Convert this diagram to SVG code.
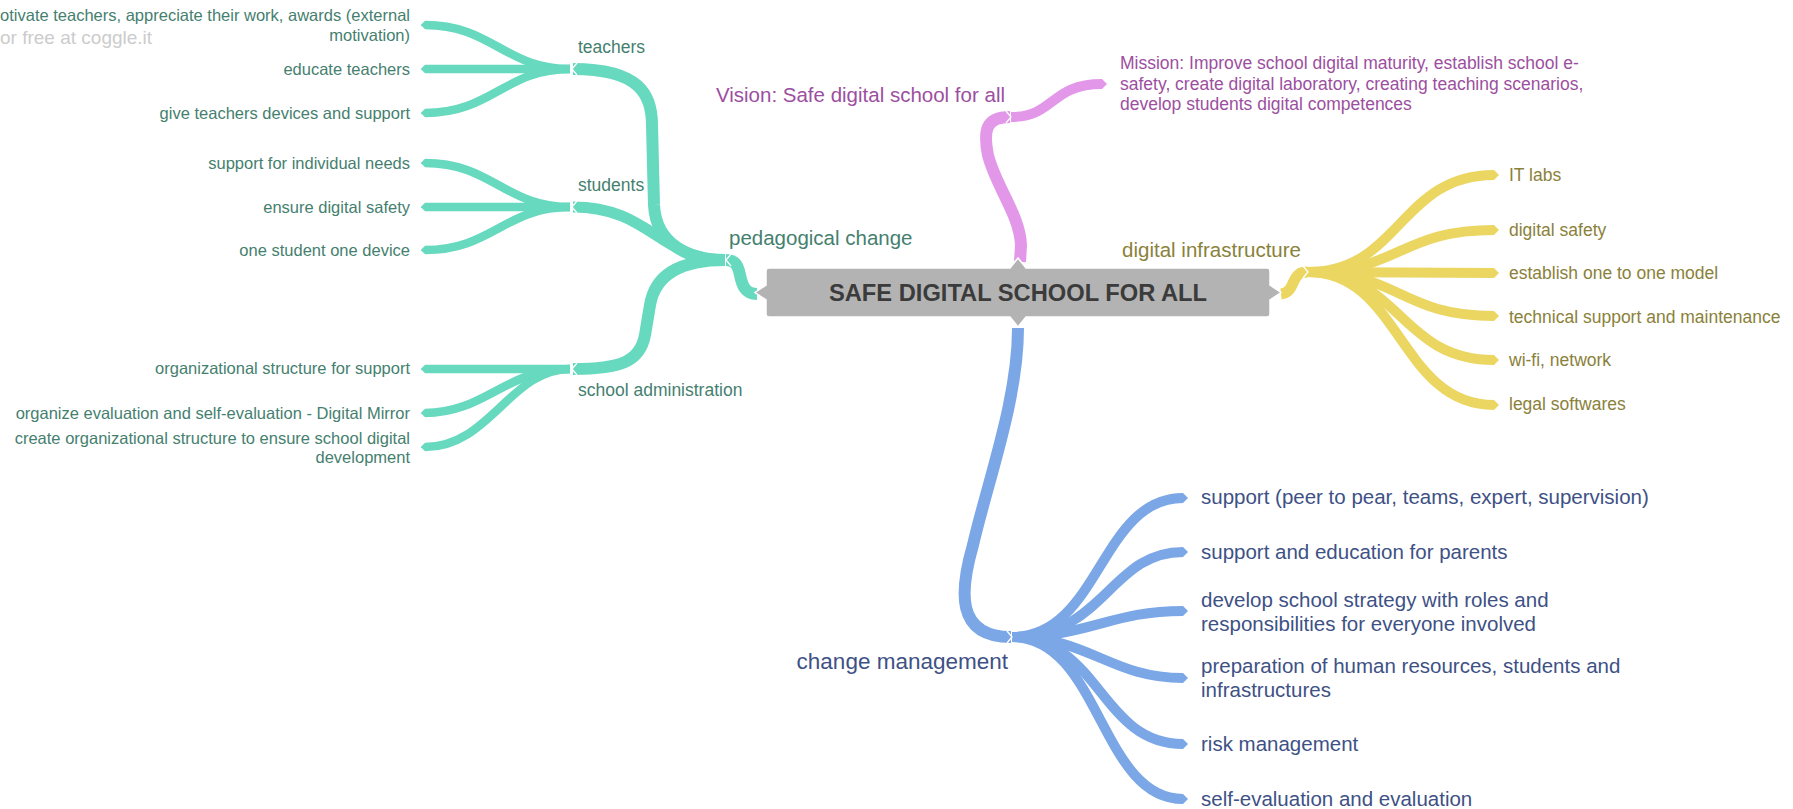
<svg xmlns="http://www.w3.org/2000/svg" width="1793" height="809" viewBox="0 0 1793 809">
<style>
text{font-family:"Liberation Sans",Arial,sans-serif}
.br{fill:none;stroke-linecap:butt;stroke-linejoin:round}
.tl{stroke:#66d9bf}.pk{stroke:#e297e9}.yl{stroke:#ebd661}.bl{stroke:#7ba7e6}
.notch{fill:none;stroke:#fff;stroke-width:1.3}
.tt{fill:#45806f}.pt{fill:#9c4fa0}.yt{fill:#8a813a}.bt{fill:#3e5185}
.s3{font-size:16.5px}.s2{font-size:17.5px}.s1{font-size:20.5px}
.r{text-anchor:end}
</style>
<defs>
<marker id="tipT" viewBox="0 -5 5 10" refX="0" refY="0" markerWidth="0.5" markerHeight="1" orient="auto" markerUnits="strokeWidth"><path d="M0,-5 L5,0 L0,5 Z" fill="#66d9bf"/></marker>
<marker id="tipP" viewBox="0 -5 5 10" refX="0" refY="0" markerWidth="0.5" markerHeight="1" orient="auto" markerUnits="strokeWidth"><path d="M0,-5 L5,0 L0,5 Z" fill="#e297e9"/></marker>
<marker id="tipY" viewBox="0 -5 5 10" refX="0" refY="0" markerWidth="0.5" markerHeight="1" orient="auto" markerUnits="strokeWidth"><path d="M0,-5 L5,0 L0,5 Z" fill="#ebd661"/></marker>
<marker id="tipB" viewBox="0 -5 5 10" refX="0" refY="0" markerWidth="0.5" markerHeight="1" orient="auto" markerUnits="strokeWidth"><path d="M0,-5 L5,0 L0,5 Z" fill="#7ba7e6"/></marker>
</defs>
<rect width="1793" height="809" fill="#ffffff"/>
<text x="0" y="44" font-size="19" fill="#cccccc">or free at coggle.it</text>

<g id="connectors">
  <!-- teal -->
  <g class="br tl">
    <path d="M570,69 C505,69 492,25 425,25" stroke-width="8.5" marker-end="url(#tipT)"/>
    <path d="M570,69 L425,69" stroke-width="8.5" marker-end="url(#tipT)"/>
    <path d="M570,69 C505,69 492,113 425,113" stroke-width="8.5" marker-end="url(#tipT)"/>
    <path d="M570,207 C505,207 492,163 425,163" stroke-width="8.5" marker-end="url(#tipT)"/>
    <path d="M570,207 L425,207" stroke-width="8.5" marker-end="url(#tipT)"/>
    <path d="M570,207 C505,207 492,250 425,250" stroke-width="8.5" marker-end="url(#tipT)"/>
    <path d="M570,369 L425,369" stroke-width="8.5" marker-end="url(#tipT)"/>
    <path d="M570,369 C505,369 485,413 425,413" stroke-width="8.5" marker-end="url(#tipT)"/>
    <path d="M570,369 C510,369 490,447 425,447" stroke-width="8.5" marker-end="url(#tipT)"/>
    <path d="M725,260 C690,260 656,245 654,205 L652,125 C652,95 640,69 573,69" stroke-width="12"/>
    <path d="M725,260 C660,260 650,207 573,207" stroke-width="11"/>
    <path d="M725,260 C680,260 655,275 650,305 L645,335 C640,362 620,369 573,369" stroke-width="12"/>
    <path d="M757,294 C745,294 742,285 740,275 C738,265 735,260 726,260" stroke-width="12"/>
  </g>
  <!-- pink -->
  <g class="br pk">
    <path d="M1020,262 L1021,245 C1020,215 995,185 988,155 C983,130 986,117 1010,117" stroke-width="12"/>
    <path d="M1011,117 C1055,117 1050,84 1102,84" stroke-width="10" marker-end="url(#tipP)"/>
  </g>
  <!-- yellow -->
  <g class="br yl">
    <path d="M1281,294 C1291,293 1292,284 1295,279 C1298,274 1300,272 1308,272" stroke-width="11"/>
    <path d="M1308,272 C1400,272 1400,175 1494,175" stroke-width="10" marker-end="url(#tipY)"/>
    <path d="M1308,272 C1400,272 1400,230 1494,230" stroke-width="10" marker-end="url(#tipY)"/>
    <path d="M1308,272 C1400,272 1400,273 1494,273" stroke-width="10" marker-end="url(#tipY)"/>
    <path d="M1308,272 C1400,272 1400,316 1494,316" stroke-width="10" marker-end="url(#tipY)"/>
    <path d="M1308,272 C1400,272 1400,360 1494,360" stroke-width="10" marker-end="url(#tipY)"/>
    <path d="M1308,272 C1400,272 1400,405 1494,405" stroke-width="10" marker-end="url(#tipY)"/>
  </g>
  <!-- blue -->
  <g class="br bl">
    <path d="M1018,328 C1018,400 988,480 973,545 C960,590 955,637 1011,637" stroke-width="12"/>
    <path d="M1012,637 C1100,637 1100,498 1183,498" stroke-width="10" marker-end="url(#tipB)"/>
    <path d="M1012,637 C1105,637 1110,552 1183,552" stroke-width="10" marker-end="url(#tipB)"/>
    <path d="M1012,637 C1090,637 1110,611 1183,611" stroke-width="10" marker-end="url(#tipB)"/>
    <path d="M1012,637 C1090,637 1110,678 1183,678" stroke-width="10" marker-end="url(#tipB)"/>
    <path d="M1012,637 C1100,637 1100,744 1183,744" stroke-width="10" marker-end="url(#tipB)"/>
    <path d="M1012,637 C1100,637 1100,799 1183,799" stroke-width="10" marker-end="url(#tipB)"/>
  </g>
  <!-- hub notches -->
  <polyline class="notch" points="577,63 572,69 577,75"/>
  <polyline class="notch" points="577,201 572,207 577,213"/>
  <polyline class="notch" points="577,363 572,369 577,375"/>
  <polyline class="notch" points="731,254 726,260 731,266"/>
  <polyline class="notch" points="1006,111 1011,117 1006,123"/>
  <polyline class="notch" points="1303,266 1308,272 1303,278"/>
  <polyline class="notch" points="1007,631 1012,637 1007,643"/>
</g>

<g id="central">
  <path d="M769,268 H1010 L1018,258 L1026,268 H1267 Q1270,268 1270,271 V285 L1281,292.5 L1270,300 V314 Q1270,317 1267,317 H1026 L1018,327 L1010,317 H769 Q766,317 766,314 V300 L755,292.5 L766,285 V271 Q766,268 769,268 Z" fill="#b3b3b3" stroke="#ffffff" stroke-width="1.5"/>
  <text x="1018" y="301" text-anchor="middle" font-size="23.7" font-weight="bold" fill="#3b3b3b">SAFE DIGITAL SCHOOL FOR ALL</text>
</g>

<g id="pedagogical-change"><text class="tt s1" x="729" y="245">pedagogical change</text></g>
<g id="teachers"><text class="tt s2" x="578" y="53">teachers</text></g>
<g id="students"><text class="tt s2" x="578" y="191">students</text></g>
<g id="school-administration"><text class="tt s2" x="578" y="396">school administration</text></g>

<g id="motivate-teachers"><text class="tt s3 r" x="410" y="21">otivate teachers, appreciate their work, awards (external</text><text class="tt s3 r" x="410" y="40.5">motivation)</text></g>
<g id="educate-teachers"><text class="tt s3 r" x="410" y="75">educate teachers</text></g>
<g id="give-teachers-devices"><text class="tt s3 r" x="410" y="119">give teachers devices and support</text></g>
<g id="support-individual-needs"><text class="tt s3 r" x="410" y="169">support for individual needs</text></g>
<g id="ensure-digital-safety"><text class="tt s3 r" x="410" y="213">ensure digital safety</text></g>
<g id="one-student-one-device"><text class="tt s3 r" x="410" y="256">one student one device</text></g>
<g id="organizational-structure-support"><text class="tt s3 r" x="410" y="374">organizational structure for support</text></g>
<g id="organize-evaluation"><text class="tt s3 r" x="410" y="419">organize evaluation and self-evaluation - Digital Mirror</text></g>
<g id="create-organizational-structure"><text class="tt s3 r" x="410" y="444">create organizational structure to ensure school digital</text><text class="tt s3 r" x="410" y="463">development</text></g>

<g id="vision"><text class="pt s1 r" x="1005" y="102">Vision: Safe digital school for all</text></g>
<g id="mission"><text class="pt s2" x="1120" y="69">Mission: Improve school digital maturity, establish school e-</text><text class="pt s2" x="1120" y="89.5">safety, create digital laboratory, creating teaching scenarios,</text><text class="pt s2" x="1120" y="110">develop students digital competences</text></g>

<g id="digital-infrastructure"><text class="yt s1 r" x="1301" y="257">digital infrastructure</text></g>
<g id="it-labs"><text class="yt s2" x="1509" y="181">IT labs</text></g>
<g id="digital-safety"><text class="yt s2" x="1509" y="236">digital safety</text></g>
<g id="one-to-one-model"><text class="yt s2" x="1509" y="279">establish one to one model</text></g>
<g id="technical-support"><text class="yt s2" x="1509" y="323">technical support and maintenance</text></g>
<g id="wifi-network"><text class="yt s2" x="1509" y="366">wi-fi, network</text></g>
<g id="legal-softwares"><text class="yt s2" x="1509" y="410">legal softwares</text></g>

<g id="change-management"><text class="bt r" font-size="22.5" x="1008" y="669">change management</text></g>
<g id="support-peer"><text class="bt s1" x="1201" y="504">support (peer to pear, teams, expert, supervision)</text></g>
<g id="support-parents"><text class="bt s1" x="1201" y="559">support and education for parents</text></g>
<g id="school-strategy"><text class="bt s1" x="1201" y="607">develop school strategy with roles and</text><text class="bt s1" x="1201" y="631">responsibilities for everyone involved</text></g>
<g id="preparation"><text class="bt s1" x="1201" y="673">preparation of human resources, students and</text><text class="bt s1" x="1201" y="697">infrastructures</text></g>
<g id="risk-management"><text class="bt s1" x="1201" y="751">risk management</text></g>
<g id="self-evaluation"><text class="bt s1" x="1201" y="806">self-evaluation and evaluation</text></g>
</svg>
